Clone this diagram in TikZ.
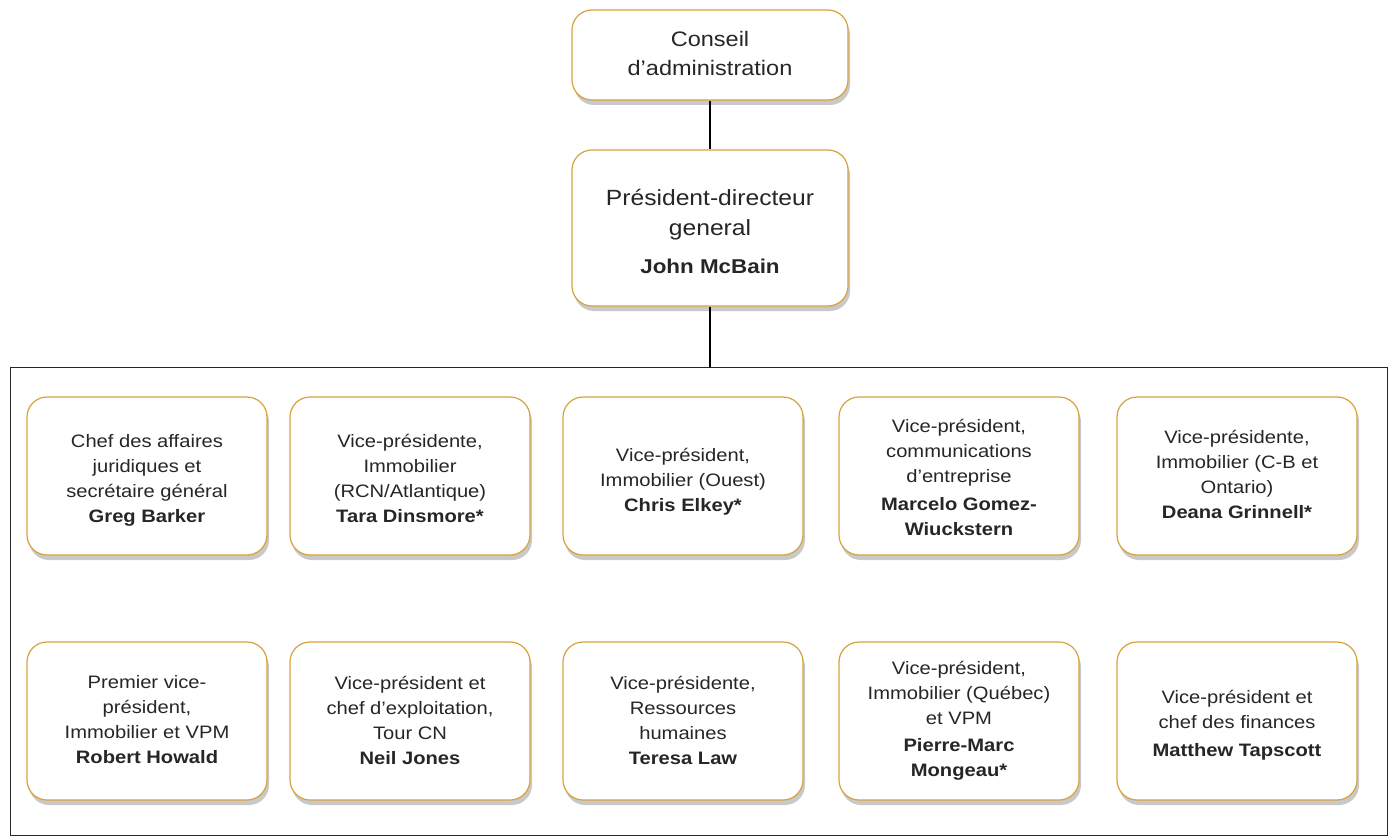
\documentclass[tikz,border=0pt]{standalone}
\usepackage{fontspec}
\setmainfont[FakeStretch=1.12]{Liberation Sans}
\usetikzlibrary{shadows}
\definecolor{gold}{HTML}{D6A23C}
\begin{document}
\begin{tikzpicture}[x=1pt,y=-1pt,
  orgbox/.style={draw=gold, line width=1.2pt, fill=white, rounded corners=20pt,
    drop shadow={shadow xshift=2pt, shadow yshift=-5pt, opacity=0.35, fill=black!60},
    minimum width=240pt, minimum height=158pt, align=center, inner sep=0pt,
    font=\fontsize{18}{25}\selectfont, text=black!85},
  topbox/.style={orgbox, minimum width=276pt},
  link/.style={line width=2pt, black}]
\useasboundingbox (0,0) rectangle (1390,840);
\fill[white] (0,0) rectangle (1390,840);
\draw[line width=1pt, black!85] (10,367) rectangle (1387,835);

\node[topbox, minimum height=90pt, font=\fontsize{21}{29}\selectfont] (ca) at (710,55) {};
\node[align=center, font=\fontsize{21}{29}\selectfont, text=black!85] (catext) at (710,53) {Conseil\\d’administration};
\node[topbox, minimum height=156pt] (pdg) at (710,228) {};
\node[align=center, font=\fontsize{22}{30}\selectfont, text=black!85] (pdgtext) at (710,231) {Président-directeur\\general\\[8pt]{\bfseries\fontsize{20}{30}\selectfont John McBain}};
\coordinate (top) at (710,367);
\draw[link] (ca) -- (pdg);
\draw[link] (pdg) -- (top);

\newcommand{\nmx}[1]{{\bfseries\fontsize{18}{25}\selectfont #1}}
\node[orgbox] (b1) at (147,476) {};
\node[align=center, font=\fontsize{18}{25}\selectfont, text=black!85] (b1t) at (147,480) {Chef des affaires\\juridiques et\\secrétaire général\\\nmx{Greg Barker}};
\node[orgbox] (b2) at (410,476) {};
\node[align=center, font=\fontsize{18}{25}\selectfont, text=black!85] (b2t) at (410,478) {Vice-présidente,\\Immobilier\\(RCN/Atlantique)\\\nmx{Tara Dinsmore*}};
\node[orgbox] (b3) at (683,476) {};
\node[align=center, font=\fontsize{18}{25}\selectfont, text=black!85] (b3t) at (683,482) {Vice-président,\\Immobilier (Ouest)\\\nmx{Chris Elkey*}};
\node[orgbox] (b4) at (959,476) {};
\node[align=center, font=\fontsize{18}{25}\selectfont, text=black!85] (b4t) at (959,477) {Vice-président,\\communications\\d’entreprise\\[3pt]\nmx{Marcelo Gomez-}\\\nmx{Wiuckstern}};
\node[orgbox] (b5) at (1237,476) {};
\node[align=center, font=\fontsize{18}{25}\selectfont, text=black!85] (b5t) at (1237,474) {Vice-présidente,\\Immobilier (C-B et\\Ontario)\\\nmx{Deana Grinnell*}};

\node[orgbox] (c1) at (147,721) {};
\node[align=center, font=\fontsize{18}{25}\selectfont, text=black!85] (c1t) at (147,720) {Premier vice-\\président,\\Immobilier et VPM\\\nmx{Robert Howald}};
\node[orgbox] (c2) at (410,721) {};
\node[align=center, font=\fontsize{18}{25}\selectfont, text=black!85] (c2t) at (410,720) {Vice-président et\\chef d’exploitation,\\Tour CN\\\nmx{Neil Jones}};
\node[orgbox] (c3) at (683,721) {};
\node[align=center, font=\fontsize{18}{25}\selectfont, text=black!85] (c3t) at (683,720) {Vice-présidente,\\Ressources\\humaines\\\nmx{Teresa Law}};
\node[orgbox] (c4) at (959,721) {};
\node[align=center, font=\fontsize{18}{25}\selectfont, text=black!85] (c4t) at (959,721) {Vice-président,\\Immobilier (Québec)\\et VPM\\[2pt]\nmx{Pierre-Marc}\\\nmx{Mongeau*}};
\node[orgbox] (c5) at (1237,721) {};
\node[align=center, font=\fontsize{18}{25}\selectfont, text=black!85] (c5t) at (1237,725) {Vice-président et\\chef des finances\\[3pt]\nmx{Matthew Tapscott}};
\end{tikzpicture}
\end{document}
